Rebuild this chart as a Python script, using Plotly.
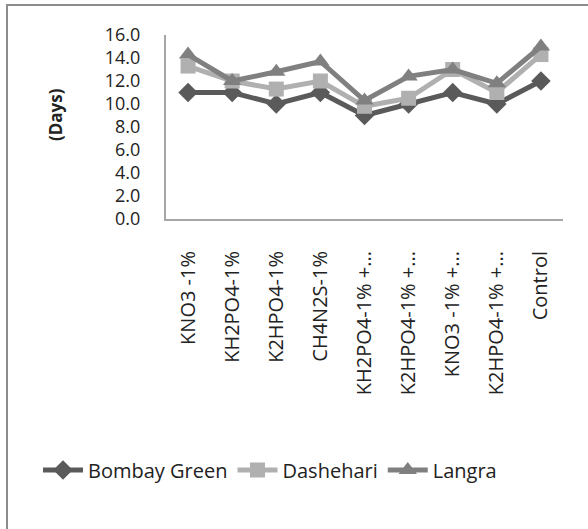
import plotly.graph_objects as go

# Treatments (x categories) and days for each mango variety
treatments = ["KNO3 -1%", "KH2PO4-1%", "K2HPO4-1%", "CH4N2S-1%",
              "KH2PO4-1% +...", "K2HPO4-1% +...", "KNO3 -1% +...",
              "K2HPO4-1% +...", "Control"]
category_ids = list(range(len(treatments)))

bombay_green = [11.0, 11.0, 10.0, 11.0, 9.0, 10.0, 11.0, 10.0, 12.0]
dashehari = [13.3, 12.0, 11.3, 12.0, 9.8, 10.5, 13.0, 11.0, 14.3]
langra = [14.3, 12.0, 12.8, 13.7, 10.3, 12.4, 13.0, 11.8, 15.0]

y_ticks = [0, 2, 4, 6, 8, 10, 12, 14, 16]
y_tick_text = [f"{v:.1f}" for v in y_ticks]

FONT = "Open Sans, Lato, sans-serif"

series = [
    ("Bombay Green", bombay_green, "#5a5a5a", "diamond", 15),
    ("Dashehari", dashehari, "#b0b0b0", "square", 15),
    ("Langra", langra, "#808080", "triangle-up", 16),
]

fig = go.Figure()
for name, vals, color, symbol, size in series:
    fig.add_trace(go.Scatter(
        x=category_ids, y=vals, name=name, mode="lines+markers",
        line=dict(color=color, width=5),
        marker=dict(symbol=symbol, size=size, color=color),
    ))

# Plot area in pixels: x 166..563, y 35..219
L, R, T, B = 166, 25, 35, 310
W, H = 588, 529
pw, ph = W - L - R, H - T - B

def px_x(x):
    return (x - L) / pw

def px_y(y):
    return (H - B - y) / ph

fig.update_layout(
    width=W, height=H,
    margin=dict(l=L, r=R, t=T, b=B, pad=0),
    paper_bgcolor="white", plot_bgcolor="white",
    font=dict(family=FONT, color="#222222"),
    showlegend=True,
    legend=dict(
        orientation="h", x=px_x(38), y=px_y(470),
        xanchor="left", yanchor="middle",
        font=dict(size=20, family=FONT, color="#222222"),
        itemwidth=40, tracegroupgap=0,
        bgcolor="rgba(0,0,0,0)",
    ),
    xaxis=dict(
        tickmode="array", tickvals=category_ids, ticktext=treatments,
        tickangle=-90, range=[-0.5, len(treatments) - 0.5],
        showgrid=False, zeroline=False,
        showline=True, linecolor="#a6a6a6", linewidth=2,
        ticks="", ticklabelstandoff=22,
        tickfont=dict(size=20, family=FONT, color="#222222"),
    ),
    yaxis=dict(
        range=[0, 16], tickmode="array", tickvals=y_ticks, ticktext=y_tick_text,
        showgrid=False, zeroline=False,
        showline=True, linecolor="#a6a6a6", linewidth=2,
        ticks="", ticklabelstandoff=20,
        tickfont=dict(size=18, family=FONT, color="#222222"),
    ),
    annotations=[dict(
        text="<b>(Days)</b>", textangle=-90,
        xref="paper", yref="paper", x=px_x(55), y=px_y(115),
        xanchor="center", yanchor="middle", showarrow=False,
        font=dict(size=17, family=FONT, color="#222222"),
    )],
    shapes=[dict(
        type="rect", xref="paper", yref="paper",
        x0=px_x(7), x1=px_x(620), y0=px_y(560), y1=px_y(5),
        line=dict(color="#8c8c8c", width=2), fillcolor="rgba(0,0,0,0)",
        layer="below",
    )],
)

fig.write_html("out.html")
